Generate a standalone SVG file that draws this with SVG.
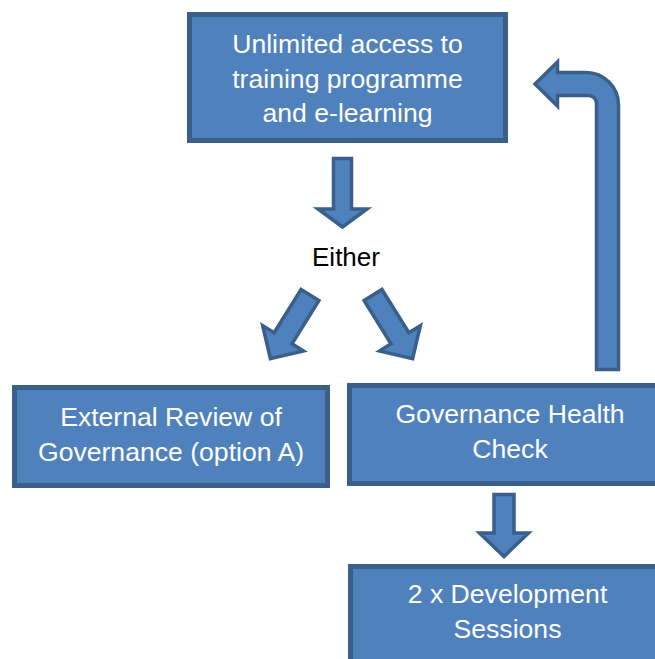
<svg xmlns="http://www.w3.org/2000/svg" width="655" height="659" viewBox="0 0 655 659">
<style>
.box{fill:#4F81BD;stroke:#3A5F8B;stroke-width:5}
.arr{fill:#4F81BD;stroke:#3A5F8B;stroke-width:3.5;stroke-linejoin:miter}
.t{font-family:"Liberation Sans",Arial,sans-serif;font-size:26.6px;fill:#FFFFFF;text-anchor:middle}
.lbl{font-family:"Liberation Sans",Arial,sans-serif;font-size:26px;fill:#000000;text-anchor:middle}
</style>
<rect width="655" height="659" fill="#FFFFFF"/>
<g id="n-training">
<rect class="box" x="189.5" y="14.5" width="316" height="126"/>
<text class="t" x="347.5" y="53">Unlimited access to</text>
<text class="t" x="347.5" y="88">training programme</text>
<text class="t" x="347.5" y="122">and e-learning</text>
</g>
<g id="n-either">
<text class="lbl" x="346" y="266">Either</text>
</g>
<g id="n-external">
<rect class="box" x="14.5" y="387.5" width="313" height="98"/>
<text class="t" x="171" y="426">External Review of</text>
<text class="t" x="171" y="461">Governance (option A)</text>
</g>
<g id="n-health">
<rect class="box" x="349.5" y="385.5" width="322" height="98"/>
<text class="t" x="510" y="423">Governance Health</text>
<text class="t" x="510" y="458">Check</text>
</g>
<g id="n-dev">
<rect class="box" x="350.5" y="566.5" width="314" height="100"/>
<text class="t" x="507.5" y="603">2 x Development</text>
<text class="t" x="507.5" y="638">Sessions</text>
</g>
<g id="connectors">
<path class="arr" d="M333.5,158.5 L351.5,158.5 L351.5,209 L367,209 L342.5,227 L318,209 L333.5,209 Z"/>
<path class="arr" transform="translate(310,295) rotate(31.9)" d="M-10.5,0 L10.5,0 L10.5,51 L24,51 L0,75 L-24,51 L-10.5,51 Z"/>
<path class="arr" transform="translate(373,295) rotate(-31.9)" d="M-10.5,0 L10.5,0 L10.5,51 L24,51 L0,75 L-24,51 L-10.5,51 Z"/>
<path class="arr" d="M494,494.5 L514,494.5 L514,533 L528.5,533 L504,556.5 L479.5,533 L494,533 Z"/>
<path class="arr" d="M596.5,369.5 L618.5,369.5 L618.5,105 A32.5,32.5 0 0 0 586,72.5 L557.5,72.5 L557.5,62 L535,84 L557.5,106 L557.5,95.5 L588.5,95.5 A8,8 0 0 1 596.5,103.5 Z"/>
</g>
</svg>
